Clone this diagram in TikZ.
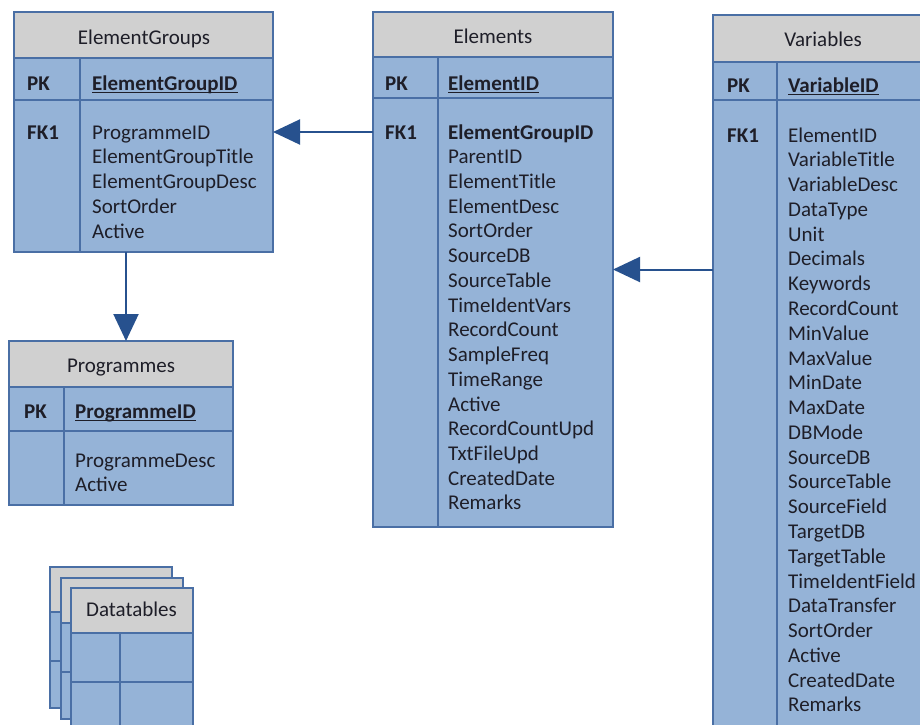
\documentclass[tikz,border=0pt]{standalone}
\usepackage{fontspec}
\setmainfont{Carlito}
\usetikzlibrary{arrows.meta}
\definecolor{hdr}{HTML}{D0D0D0}
\definecolor{bodyc}{HTML}{95B3D7}
\definecolor{edgec}{HTML}{4A6FA5}
\definecolor{arr}{HTML}{27518E}
\definecolor{txt}{HTML}{1E1E28}
\begin{document}
\begin{tikzpicture}[x=1pt,y=-1pt,
  tbody/.style={fill=bodyc,draw=edgec,line width=2pt,inner sep=0pt,outer sep=0pt},
  thead/.style={fill=hdr,draw=edgec,line width=2pt,inner sep=0pt,outer sep=0pt},
  tline/.style={draw=edgec,line width=2pt},
  lbl/.style={anchor=base west,inner sep=0pt,font=\fontsize{21}{25}\selectfont,text=txt},
  keylbl/.style={lbl,font=\fontsize{21}{25}\selectfont\bfseries},
  head/.style={anchor=base,inner sep=0pt,font=\fontsize{21}{25}\selectfont,text=txt},
  uline/.style={draw=txt,line width=1.3pt},
  conn/.style={draw=arr,line width=2pt,-{Triangle[length=27pt,width=25pt]}}
]
\useasboundingbox (0,0) rectangle (920,724);
\clip (0,0) rectangle (920,724);
\fill[white] (0,0) rectangle (920,724);

% ---------------- ElementGroups
\node[tbody,minimum width=259,minimum height=240] (eg) at (143.5,132) {};
\node[thead,minimum width=259,minimum height=46,anchor=north] (egh) at (eg.north) {};
\draw[tline] (eg.west |- 0,100) -- (eg.east |- 0,100);
\draw[tline] (egh.south -| 80,0) -- (eg.south -| 80,0);
\node[head] (egt) at (144,44) {ElementGroups};
\node[keylbl] (egpk) at (27,90) {PK};
\node[keylbl] (egid) at (92,90) {ElementGroupID};
\draw[uline] ([yshift=-2.5pt]egid.base west) -- ([yshift=-2.5pt]egid.base east);
\node[keylbl] (egfk) at (27,139) {FK1};
\foreach [count=\i] \t in {ProgrammeID,ElementGroupTitle,ElementGroupDesc,SortOrder,Active}
  \node[lbl] (egf\i) at (92,{139+(\i-1)*24.75}) {\t};

% ---------------- Elements
\node[tbody,minimum width=240,minimum height=515] (el) at (493,269.5) {};
\node[thead,minimum width=240,minimum height=45,anchor=north] (elh) at (el.north) {};
\draw[tline] (el.west |- 0,98) -- (el.east |- 0,98);
\draw[tline] (elh.south -| 438,0) -- (el.south -| 438,0);
\node[head] (elt) at (493,43) {Elements};
\node[keylbl] (elpk) at (385,90) {PK};
\node[keylbl] (elid) at (448,90) {ElementID};
\draw[uline] ([yshift=-2.5pt]elid.base west) -- ([yshift=-2.5pt]elid.base east);
\node[keylbl] (elfk) at (385,139) {FK1};
\node[keylbl] (elf1) at (448,139) {ElementGroupID};
\foreach [count=\i] \t in {ParentID,ElementTitle,ElementDesc,SortOrder,SourceDB,SourceTable,TimeIdentVars,RecordCount,SampleFreq,TimeRange,Active,RecordCountUpd,TxtFileUpd,CreatedDate,Remarks}
  \node[lbl] (elf\i x) at (448,{139+\i*24.73}) {\t};

% ---------------- Variables
\node[tbody,minimum width=220,minimum height=725] (var) at (823,377.5) {};
\node[thead,minimum width=220,minimum height=47,anchor=north] (varh) at (var.north) {};
\draw[tline] (var.west |- 0,100) -- (var.east |- 0,100);
\draw[tline] (varh.south -| 777,0) -- (var.south -| 777,0);
\node[head] (vart) at (823,46) {Variables};
\node[keylbl] (varpk) at (727,92) {PK};
\node[keylbl] (varid) at (788,92) {VariableID};
\draw[uline] ([yshift=-2.5pt]varid.base west) -- ([yshift=-2.5pt]varid.base east);
\node[keylbl] (varfk) at (727,142) {FK1};
\foreach [count=\i] \t in {ElementID,VariableTitle,VariableDesc,DataType,Unit,Decimals,Keywords,RecordCount,MinValue,MaxValue,MinDate,MaxDate,DBMode,SourceDB,SourceTable,SourceField,TargetDB,TargetTable,TimeIdentField,DataTransfer,SortOrder,Active,CreatedDate,Remarks}
  \node[lbl] (varf\i) at (788,{142+(\i-1)*24.78}) {\t};

% ---------------- Programmes
\node[tbody,minimum width=224,minimum height=164] (prog) at (121,423) {};
\node[thead,minimum width=224,minimum height=46,anchor=north] (progh) at (prog.north) {};
\draw[tline] (prog.west |- 0,431) -- (prog.east |- 0,431);
\draw[tline] (progh.south -| 64,0) -- (prog.south -| 64,0);
\node[head] (progt) at (121,372) {Programmes};
\node[keylbl] (progpk) at (24,418) {PK};
\node[keylbl] (progid) at (75,418) {ProgrammeID};
\draw[uline] ([yshift=-2.5pt]progid.base west) -- ([yshift=-2.5pt]progid.base east);
\node[lbl] (progf1) at (75,467) {ProgrammeDesc};
\node[lbl] (progf2) at (75,491) {Active};

% ---------------- Datatables (stacked sheets)
\foreach \k/\dx in {0/0,1/10.5,2/21} {
  \begin{scope}[shift={(\dx,\dx)}]
    \node[tbody,minimum width=122,minimum height=141,anchor=north west] (dt\k) at (50,567) {};
    \node[thead,minimum width=122,minimum height=45,anchor=north west] (dth\k) at (50,567) {};
    \draw[tline] (dt\k.west |- 0,661) -- (dt\k.east |- 0,661);
    \draw[tline] (dth\k.south -| 99,0) -- (dt\k.south -| 99,0);
  \end{scope}
}
\node[head] (dtt) at (131.5,616) {Datatables};

% ---------------- Connectors
\draw[conn] (el.west |- eg.east) -- (eg.east);
\draw[conn] (var.west |- el.east) -- (el.east);
\draw[conn] (eg.south -| 126,0) -- (prog.north -| 126,0);
\end{tikzpicture}
\end{document}
